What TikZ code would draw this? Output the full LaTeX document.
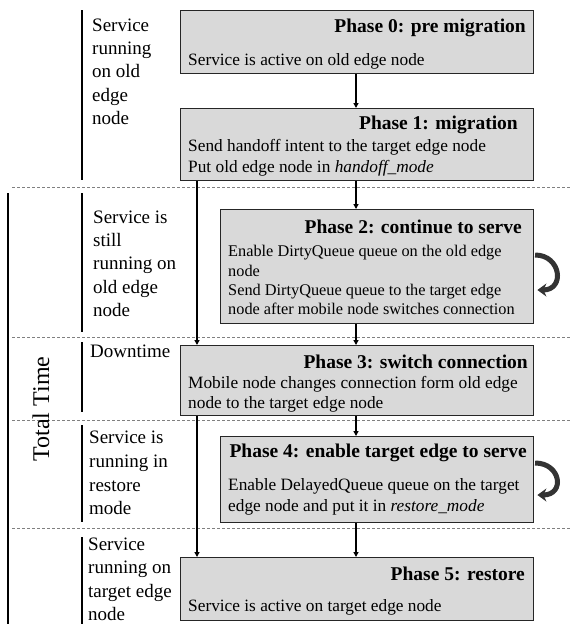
\documentclass[tikz,border=0pt]{standalone}
\usepackage{fontspec}
\setmainfont{Liberation Serif}
\usetikzlibrary{arrows.meta}
\begin{document}
\begin{tikzpicture}[x=1pt,y=-1pt,
  phasebox/.style={draw=black!85,line width=1.4pt,fill=gray!30,anchor=north west,inner sep=0pt},
  ttl/.style={font=\fontsize{19.5}{23}\selectfont\bfseries,anchor=base east,inner sep=0pt},
  bdy/.style={font=\fontsize{17.3}{21}\selectfont,anchor=base west,inner sep=0pt},
  bdys/.style={font=\fontsize{16.3}{19.5}\selectfont,anchor=base west,inner sep=0pt},
  lbl/.style={font=\fontsize{19}{23}\selectfont,anchor=base west,inner sep=0pt},
  flow/.style={line width=1.4pt,-{Triangle[length=5pt,width=5pt]}},
  bar/.style={line width=2pt},
  sep/.style={gray,line width=0.8pt,dash pattern=on 3pt off 2pt},
  loop/.style={line width=5pt,gray!40!black,-{Stealth[length=9pt,width=13pt]}}]
\useasboundingbox (0,0) rectangle (570,624);
% separators
\draw[sep] (12,187) -- (570,187);
\draw[sep] (12,337) -- (570,337);
\draw[sep] (12,420) -- (570,420);
\draw[sep] (12,528) -- (570,528);
% boxes
\node[phasebox,minimum width=353pt,minimum height=63pt] (p0) at (180,10) {};
\node[phasebox,minimum width=353pt,minimum height=72pt] (p1) at (180,108) {};
\node[phasebox,minimum width=313pt,minimum height=114pt] (p2) at (220,209) {};
\node[phasebox,minimum width=353pt,minimum height=70pt] (p3) at (180,345) {};
\node[phasebox,minimum width=313pt,minimum height=86pt] (p4) at (220,436) {};
\node[phasebox,minimum width=353pt,minimum height=63pt] (p5) at (180,557) {};
% texts
\node[ttl] (t0) at (526,32) {Phase 0: pre migration};
\node[bdy] (b0) at (188,65) {Service is active on old edge node};
\node[ttl] (t1) at (518,129) {Phase 1: migration};
\node[bdy] (b1a) at (188,151) {Send handoff intent to the target edge node};
\node[bdy] (b1b) at (188,172) {Put old edge node in \textit{handoff\_mode}};
\node[ttl] (t2) at (522,233) {Phase 2: continue to serve};
\node[bdys] (b2a) at (228,256) {Enable DirtyQueue queue on the old edge};
\node[bdys] (b2b) at (228,276) {node};
\node[bdys] (b2c) at (228,295) {Send DirtyQueue queue to the target edge};
\node[bdys] (b2d) at (228,314) {node after mobile node switches connection};
\node[ttl] (t3) at (528,368) {Phase 3: switch connection};
\node[bdy] (b3a) at (188,388) {Mobile node changes connection form old edge};
\node[bdy] (b3b) at (188,408) {node to the target edge node};
\node[ttl] (t4) at (527,457) {Phase 4: enable target edge to serve};
\node[bdy] (b4a) at (228,490) {Enable DelayedQueue queue on the target};
\node[bdy] (b4b) at (228,511) {edge node and put it in \textit{restore\_mode}};
\node[ttl] (t5) at (525,580) {Phase 5: restore};
\node[bdy] (b5) at (188,611) {Service is active on target edge node};
% flow arrows
\coordinate (xa) at (356,0);
\coordinate (xb) at (197,0);
\draw[flow] (p0.south -| xa) -- (p1.north -| xa);
\draw[flow] (p1.south -| xa) -- (p2.north -| xa);
\draw[flow] (p1.south -| xb) -- (p3.north -| xb);
\draw[flow] (p2.south -| xa) -- (p3.north -| xa);
\draw[flow] (p3.south -| xa) -- (p4.north -| xa);
\draw[flow] (p3.south -| xb) -- (p5.north -| xb);
\draw[flow] (p4.south -| xa) -- (p5.north -| xa);
% self loops
\draw[loop] ([xshift=0.7pt,yshift=-46pt]p2.north east) .. controls +(26,0) and +(28,0) .. ([xshift=3pt,yshift=-81pt]p2.north east);
\draw[loop] ([xshift=0.7pt,yshift=-27pt]p4.north east) .. controls +(26,0) and +(28,0) .. ([xshift=3pt,yshift=-59pt]p4.north east);
% left bars
\draw[bar] (82,10) -- (82,180);
\draw[bar] (82,193) -- (82,332);
\draw[bar] (82,342) -- (82,412);
\draw[bar] (82,425) -- (82,522);
\draw[bar] (82,537) -- (82,624);
\draw[bar] (8,193) -- (8,624);
% left labels
\node[lbl] (l0a) at (92,31) {Service};
\node[lbl] (l0b) at (92,54.3) {running};
\node[lbl] (l0c) at (92,77.6) {on old};
\node[lbl] (l0d) at (92,101) {edge};
\node[lbl] (l0e) at (92,124) {node};
\node[lbl] (l2a) at (93,223) {Service is};
\node[lbl] (l2b) at (93,246) {still};
\node[lbl] (l2c) at (93,269) {running on};
\node[lbl] (l2d) at (93,293) {old edge};
\node[lbl] (l2e) at (93,316) {node};
\node[lbl] (l3) at (90,357) {Downtime};
\node[lbl] (l4a) at (89,443) {Service is};
\node[lbl] (l4b) at (89,467) {running in};
\node[lbl] (l4c) at (89,491) {restore};
\node[lbl] (l4d) at (89,514) {mode};
\node[lbl] (l5a) at (88,550) {Service};
\node[lbl] (l5b) at (88,573) {running on};
\node[lbl] (l5c) at (88,597) {target edge};
\node[lbl] (l5d) at (88,620) {node};
\node[font=\fontsize{24}{28}\selectfont,rotate=90,inner sep=0pt] (tt) at (41,409) {Total Time};
\end{tikzpicture}
\end{document}
